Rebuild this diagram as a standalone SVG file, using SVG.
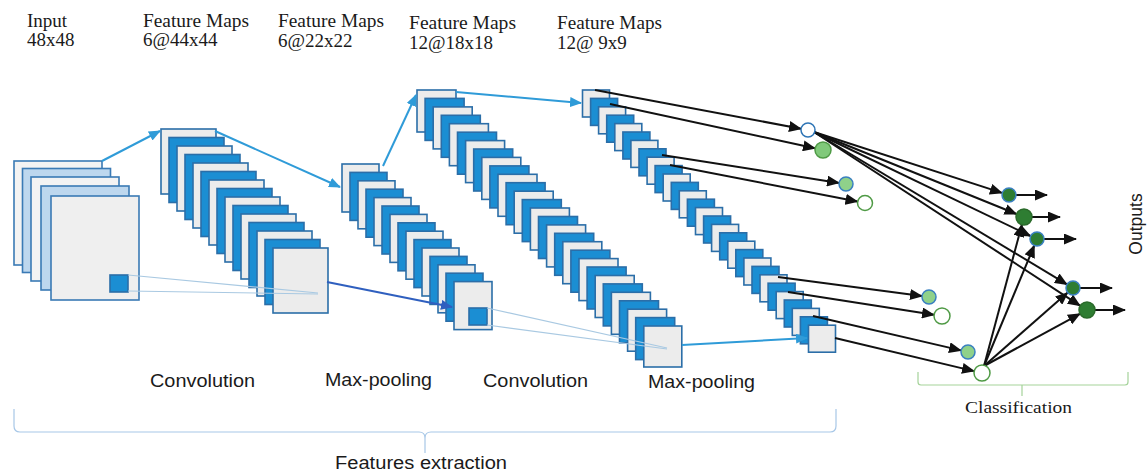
<svg xmlns="http://www.w3.org/2000/svg" width="1148" height="472" viewBox="0 0 1148 472">
<style>
.hd{font-family:"Liberation Serif","Times New Roman",serif;font-size:19px;fill:#1a1a1a}
.lb{font-family:"Liberation Sans",Arial,sans-serif;font-size:17.5px;fill:#1a1a1a}
.b{fill:#1b8ed3;stroke:#2b6ea8;stroke-width:1.6}
.g{fill:#ececec;stroke:#2b6ea8;stroke-width:1.6}
.lt{fill:#bdd7ee;stroke:#3a7ab5;stroke-width:1.6}
.wt{fill:#f3f3f3;stroke:#3a7ab5;stroke-width:1.6}
.ba{stroke:#2f9bd8;stroke-width:2;fill:none;marker-end:url(#mb)}
.ka{stroke:#111;stroke-width:2;fill:none;marker-end:url(#mk)}
.thin{stroke:#a9c9e2;stroke-width:1.2;fill:none}
.cw{fill:#fff;stroke:#2e75b6;stroke-width:1.5}
.cg{fill:#80c97a;stroke:#4f9a45;stroke-width:1.5}
.cgb{fill:#8fd18a;stroke:#3a80c0;stroke-width:1.5}
.cwg{fill:#fff;stroke:#4f9a45;stroke-width:1.5}
.od{fill:#2e7d32;stroke:#3a80c0;stroke-width:1.5}
.odg{fill:#2e7d32;stroke:#2a6a2a;stroke-width:1.5}
</style>
<defs>
<marker id="mb" markerUnits="userSpaceOnUse" markerWidth="12" markerHeight="10" viewBox="0 0 12 10" refX="11" refY="5" orient="auto"><path d="M0,0 L12,5 L0,10 z" fill="#2f9bd8"/></marker>
<marker id="md" markerUnits="userSpaceOnUse" markerWidth="12" markerHeight="10" viewBox="0 0 12 10" refX="11" refY="5" orient="auto"><path d="M0,0 L12,5 L0,10 z" fill="#2f5fbf"/></marker>
<marker id="mk" markerUnits="userSpaceOnUse" markerWidth="13" markerHeight="11" viewBox="0 0 13 11" refX="12" refY="5.5" orient="auto"><path d="M0,0 L13,5.5 L0,11 z" fill="#111"/></marker>
</defs>

<g id="headers">
<text class="hd" x="27" y="27">Input</text>
<text class="hd" x="27" y="46">48x48</text>
<text class="hd" x="143" y="27" textLength="106" lengthAdjust="spacingAndGlyphs">Feature Maps</text>
<text class="hd" x="143" y="46">6@44x44</text>
<text class="hd" x="278" y="27" textLength="106" lengthAdjust="spacingAndGlyphs">Feature Maps</text>
<text class="hd" x="278" y="47">6@22x22</text>
<text class="hd" x="409" y="29" textLength="107" lengthAdjust="spacingAndGlyphs">Feature Maps</text>
<text class="hd" x="409" y="49">12@18x18</text>
<text class="hd" x="557" y="29" textLength="105" lengthAdjust="spacingAndGlyphs">Feature Maps</text>
<text class="hd" x="557" y="49">12@ 9x9</text>
</g>

<g id="input-stack">
<rect class="wt" x="14" y="161" width="88" height="104"/>
<rect class="lt" x="22.5" y="168.5" width="88" height="104"/>
<rect class="wt" x="31" y="177" width="88" height="104"/>
<rect class="lt" x="41" y="186" width="88" height="104"/>
<rect class="wt" x="51" y="196" width="88" height="104" style="fill:#efefef"/>
<rect class="b" x="110" y="275" width="18" height="17"/>
</g>

<g id="conv1-stack">
<rect class="g" x="161" y="129" width="55" height="65"/>
<rect class="b" x="169" y="137.5" width="55" height="65"/>
<rect class="g" x="177" y="146" width="55" height="65"/>
<rect class="b" x="185" y="154.5" width="55" height="65"/>
<rect class="g" x="193" y="163" width="55" height="65"/>
<rect class="b" x="201" y="171.5" width="55" height="65"/>
<rect class="g" x="209" y="180" width="55" height="65"/>
<rect class="b" x="217" y="188.5" width="55" height="65"/>
<rect class="g" x="225" y="197" width="55" height="65"/>
<rect class="b" x="233" y="205.5" width="55" height="65"/>
<rect class="g" x="241" y="214" width="55" height="65"/>
<rect class="b" x="249" y="222.5" width="55" height="65"/>
<rect class="g" x="257" y="231" width="55" height="65"/>
<rect class="b" x="265" y="239.5" width="55" height="65"/>
<rect class="g" x="273" y="248" width="55" height="65"/>
</g>

<g id="pool1-stack">
<rect class="g" x="342" y="164" width="37" height="48"/>
<rect class="b" x="350" y="172.4" width="37" height="48"/>
<rect class="g" x="358" y="180.8" width="37" height="48"/>
<rect class="b" x="366" y="189.2" width="37" height="48"/>
<rect class="g" x="374" y="197.6" width="37" height="48"/>
<rect class="b" x="382" y="206" width="37" height="48"/>
<rect class="g" x="390" y="214.4" width="37" height="48"/>
<rect class="b" x="398" y="222.8" width="37" height="48"/>
<rect class="g" x="406" y="231.2" width="37" height="48"/>
<rect class="b" x="414" y="239.6" width="37" height="48"/>
<rect class="g" x="422" y="248" width="37" height="48"/>
<rect class="b" x="430" y="256.4" width="37" height="48"/>
<rect class="g" x="438" y="264.8" width="37" height="48"/>
<rect class="b" x="446" y="273.2" width="37" height="48"/>
<rect class="g" x="454" y="281.6" width="38" height="48"/>
<rect class="b" x="469" y="308" width="18" height="17"/>
</g>

<g id="conv2-stack">
<rect class="g" x="417" y="90" width="39" height="42"/>
<rect class="b" x="425.1" y="98.4" width="39" height="42"/>
<rect class="g" x="433.2" y="106.9" width="39" height="42"/>
<rect class="b" x="441.3" y="115.3" width="39" height="42"/>
<rect class="g" x="449.4" y="123.7" width="39" height="42"/>
<rect class="b" x="457.5" y="132.2" width="39" height="42"/>
<rect class="g" x="465.6" y="140.6" width="39" height="42"/>
<rect class="b" x="473.7" y="149" width="39" height="42"/>
<rect class="g" x="481.8" y="157.4" width="39" height="42"/>
<rect class="b" x="489.9" y="165.9" width="39" height="42"/>
<rect class="g" x="498" y="174.3" width="39" height="42"/>
<rect class="b" x="506.1" y="182.7" width="39" height="42"/>
<rect class="g" x="514.2" y="191.2" width="39" height="42"/>
<rect class="b" x="522.3" y="199.6" width="39" height="42"/>
<rect class="g" x="530.4" y="208" width="39" height="42"/>
<rect class="b" x="538.5" y="216.5" width="39" height="42"/>
<rect class="g" x="546.6" y="224.9" width="39" height="42"/>
<rect class="b" x="554.7" y="233.3" width="39" height="42"/>
<rect class="g" x="562.8" y="241.7" width="39" height="42"/>
<rect class="b" x="570.9" y="250.2" width="39" height="42"/>
<rect class="g" x="579" y="258.6" width="39" height="42"/>
<rect class="b" x="587.1" y="267" width="39" height="42"/>
<rect class="g" x="595.2" y="275.5" width="39" height="42"/>
<rect class="b" x="603.3" y="283.9" width="39" height="42"/>
<rect class="g" x="611.4" y="292.3" width="39" height="42"/>
<rect class="b" x="619.5" y="300.8" width="39" height="42"/>
<rect class="g" x="627.6" y="309.2" width="39" height="42"/>
<rect class="b" x="635.7" y="317.6" width="39" height="42"/>
<rect class="g" x="643.8" y="326" width="38" height="41"/>
</g>

<g id="pool2-stack">
<rect class="g" x="582.5" y="90" width="27" height="27"/>
<rect class="b" x="590.6" y="98.4" width="27" height="27"/>
<rect class="g" x="598.6" y="106.8" width="27" height="27"/>
<rect class="b" x="606.7" y="115.2" width="27" height="27"/>
<rect class="g" x="614.8" y="123.6" width="27" height="27"/>
<rect class="b" x="622.9" y="132" width="27" height="27"/>
<rect class="g" x="630.9" y="140.4" width="27" height="27"/>
<rect class="b" x="639" y="148.8" width="27" height="27"/>
<rect class="g" x="647.1" y="157.2" width="27" height="27"/>
<rect class="b" x="655.1" y="165.6" width="27" height="27"/>
<rect class="g" x="663.2" y="174" width="27" height="27"/>
<rect class="b" x="671.3" y="182.4" width="27" height="27"/>
<rect class="g" x="679.3" y="190.8" width="27" height="27"/>
<rect class="b" x="687.4" y="199.2" width="27" height="27"/>
<rect class="g" x="695.5" y="207.6" width="27" height="27"/>
<rect class="b" x="703.6" y="216" width="27" height="27"/>
<rect class="g" x="711.6" y="224.4" width="27" height="27"/>
<rect class="b" x="719.7" y="232.8" width="27" height="27"/>
<rect class="g" x="727.8" y="241.2" width="27" height="27"/>
<rect class="b" x="735.8" y="249.6" width="27" height="27"/>
<rect class="g" x="743.9" y="258" width="27" height="27"/>
<rect class="b" x="752" y="266.4" width="27" height="27"/>
<rect class="g" x="760" y="274.8" width="27" height="27"/>
<rect class="b" x="768.1" y="283.2" width="27" height="27"/>
<rect class="g" x="776.2" y="291.6" width="27" height="27"/>
<rect class="b" x="784.3" y="300" width="27" height="27"/>
<rect class="g" x="792.3" y="308.4" width="27" height="27"/>
<rect class="b" x="800.4" y="316.8" width="27" height="27"/>
<rect class="g" x="808.5" y="325.2" width="27" height="27"/>
</g>

<g id="connectors">
<line class="ba" x1="102" y1="161" x2="160" y2="131"/>
<line class="ba" x1="215" y1="131" x2="340" y2="187"/>
<line class="ba" x1="383" y1="166" x2="416" y2="95"/>
<line class="ba" x1="456" y1="92" x2="581" y2="103"/>
<line x1="327" y1="282" x2="452" y2="307" stroke="#2f5fbf" stroke-width="2" marker-end="url(#md)"/>
<line class="ba" x1="682" y1="345" x2="807" y2="338"/>
<line class="thin" x1="128" y1="275" x2="318" y2="293"/>
<line class="thin" x1="128" y1="291" x2="318" y2="294"/>
<line class="thin" x1="487" y1="308" x2="667" y2="348"/>
<line class="thin" x1="487" y1="325" x2="667" y2="349"/>
<line class="ka" x1="595" y1="90" x2="801" y2="128.7"/>
<line class="ka" x1="610" y1="104" x2="815" y2="148.3"/>
<line class="ka" x1="662" y1="155" x2="839" y2="182.9"/>
<line class="ka" x1="670" y1="165" x2="857.5" y2="201.6"/>
<line class="ka" x1="778" y1="277" x2="922" y2="296.1"/>
<line class="ka" x1="788" y1="292" x2="934" y2="314.8"/>
<line class="ka" x1="813" y1="316" x2="961" y2="350.4"/>
<line class="ka" x1="835" y1="338" x2="974" y2="371.1"/>
<line class="ka" x1="814" y1="132" x2="1002" y2="192.9"/>
<line class="ka" x1="814" y1="132" x2="1016.5" y2="214"/>
<line class="ka" x1="814" y1="132" x2="1030.5" y2="236"/>
<line class="ka" x1="814" y1="132" x2="1067" y2="284.4"/>
<line class="ka" x1="814" y1="132" x2="1080" y2="305.6"/>
<line class="ka" x1="984" y1="366" x2="1021.9" y2="224.7"/>
<line class="ka" x1="984" y1="366" x2="1034.3" y2="245.5"/>
<line class="ka" x1="984" y1="366" x2="1067.7" y2="292.6"/>
<line class="ka" x1="984" y1="366" x2="1080" y2="313.8"/>
<line class="ka" x1="1016" y1="195" x2="1047" y2="195"/>
<line class="ka" x1="1032" y1="217" x2="1060" y2="217"/>
<line class="ka" x1="1044" y1="239" x2="1076" y2="239"/>
<line class="ka" x1="1080" y1="288" x2="1112" y2="288"/>
<line class="ka" x1="1095" y1="310" x2="1125" y2="310"/>
</g>

<g id="neurons">
<circle id="c1" class="cw" cx="808" cy="130" r="7"/>
<circle id="c2" class="cg" cx="823" cy="150" r="8"/>
<circle id="c3" class="cgb" cx="846" cy="184" r="7"/>
<circle id="c4" class="cwg" cx="865" cy="203" r="7.5"/>
<circle id="c5" class="cgb" cx="929" cy="297" r="7"/>
<circle id="c6" class="cwg" cx="942" cy="316" r="8"/>
<circle id="c7" class="cgb" cx="968" cy="352" r="7"/>
<circle id="c8" class="cwg" cx="982" cy="373" r="8"/>
</g>
<g id="outputs">
<circle id="o1" class="od" cx="1009" cy="195" r="7"/>
<circle id="o2" class="odg" cx="1024" cy="217" r="8"/>
<circle id="o3" class="od" cx="1037" cy="239" r="7"/>
<circle id="o4" class="od" cx="1073" cy="288" r="7"/>
<circle id="o5" class="odg" cx="1087" cy="310" r="8"/>
<text class="lb" transform="translate(1142,224) rotate(-90)" text-anchor="middle" style="font-size:17.5px">Outputs</text>
</g>

<g id="labels">
<text class="lb" x="150" y="387" textLength="105" lengthAdjust="spacingAndGlyphs">Convolution</text>
<text class="lb" x="325" y="386" textLength="107" lengthAdjust="spacingAndGlyphs">Max-pooling</text>
<text class="lb" x="483" y="387" textLength="105" lengthAdjust="spacingAndGlyphs">Convolution</text>
<text class="lb" x="648" y="388" textLength="107" lengthAdjust="spacingAndGlyphs">Max-pooling</text>
</g>

<g id="feature-bracket">
<path d="M14,409 L14,426 Q14,432 20,432 L419,432 Q425,432 425,438 L425,453 M425,438 Q425,432 431,432 L830,432 Q836,432 836,426 L836,409" fill="none" stroke="#a7c7e7" stroke-width="1.2"/>
<text class="lb" x="335" y="469" textLength="172" lengthAdjust="spacingAndGlyphs">Features extraction</text>
</g>

<g id="class-bracket">
<path d="M918,372 L918,382 Q918,385 921,385 L1125,385 Q1128,385 1128,382 L1128,372 M1022,385 L1022,396" fill="none" stroke="#a5d39a" stroke-width="1.2"/>
<text class="hd" x="965" y="413" textLength="107" lengthAdjust="spacingAndGlyphs" style="font-size:17px">Classification</text>
</g>
</svg>
